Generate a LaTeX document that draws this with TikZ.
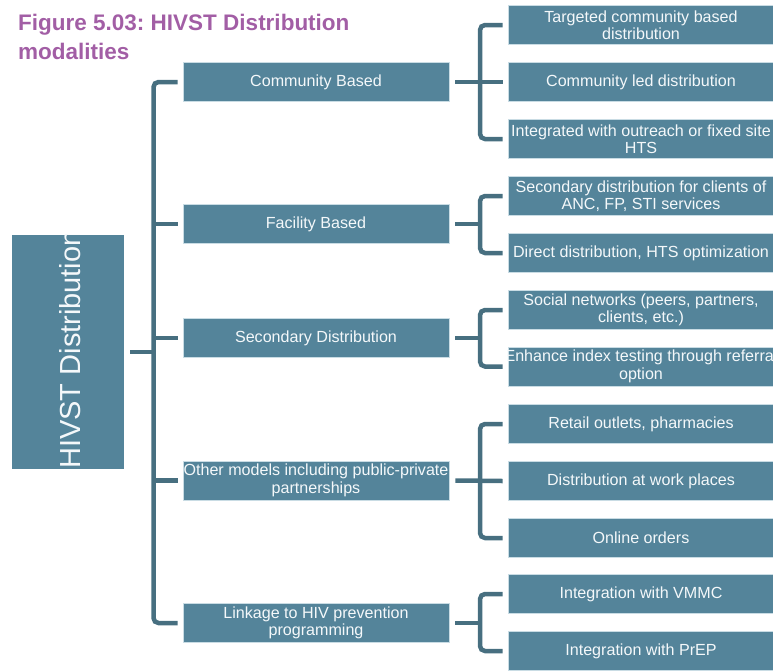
\documentclass[tikz,border=0pt]{standalone}
\usepackage{fontspec}
\setmainfont{Liberation Sans}
\frenchspacing
\definecolor{boxfill}{HTML}{54849A}
\definecolor{boxline}{HTML}{C9DCE4}
\definecolor{conncol}{HTML}{476F80}
\definecolor{titlecol}{HTML}{A25EA5}
\definecolor{txtcol}{HTML}{F4F8FA}
\begin{document}
\begin{tikzpicture}[x=1pt,y=-1pt,
  box/.style={fill=boxfill,draw=boxline,line width=0.6pt,inner sep=0pt,
    text=txtcol,font=\fontsize{16.1}{17.5}\selectfont,align=center,minimum height=39pt},
  lone/.style={box,minimum width=266pt},
  ltwo/.style={box,minimum width=266pt},
  boxtext/.style={text=txtcol,font=\fontsize{16.1}{17.5}\selectfont,align=center,inner sep=0pt},
  conn/.style={draw=conncol,line width=4.5pt,line cap=butt},
  bracket/.style={conn,rounded corners=5pt}]
\useasboundingbox (0,0) rectangle (773,670);

% title
\node[anchor=base west,inner sep=0pt,text=titlecol,font=\fontsize{22.5}{29}\selectfont\bfseries,align=left] (title) at (18,59) {Figure 5.03: HIVST Distribution\\modalities};

% root
\node[fill=boxfill,inner sep=0pt,minimum width=112pt,minimum height=234pt] (root) at (68,352) {};
\begin{scope}
\clip (root.south west) rectangle (root.north east);
\node[rotate=90,anchor=base west,inner sep=0pt,text=txtcol,font=\fontsize{29}{32}\selectfont] (roottext) at (80,469) {HIVST Distribution};
\end{scope}

% level 1
\node[lone] (l1) at (316,82) {Community Based};
\node[lone] (l2) at (316,224) {Facility Based};
\node[lone] (l3) at (316,338) {Secondary Distribution};
\node[lone] (l4) at (316,480.5) {Other models including public-private\\partnerships};
\node[lone] (l5) at (316,623) {Linkage to HIV prevention\\programming};

% level 2
\node[ltwo] (t1) at (641,25) {Targeted community based\\distribution};
\node[ltwo] (t2) at (641,82) {Community led distribution};
\node[ltwo] (t3) at (641,139) {Integrated with outreach or fixed site\\HTS};
\node[ltwo] (t4) at (641,196) {Secondary distribution for clients of\\ANC, FP, STI services};
\node[ltwo] (t5) at (641,253) {Direct distribution, HTS optimization};
\node[ltwo] (t6) at (641,310) {Social networks (peers, partners,\\clients, etc.)};
\node[ltwo] (t7) at (641,366.5) {};
\begin{scope}
\clip (t7.south west) rectangle (t7.north east);
\node[boxtext] (t7text) at (t7.center) {Enhance index testing through referral\\option};
\end{scope}
\node[ltwo] (t8) at (641,424) {Retail outlets, pharmacies};
\node[ltwo] (t9) at (641,481) {Distribution at work places};
\node[ltwo] (t10) at (641,538) {Online orders};
\node[ltwo] (t11) at (641,594) {Integration with VMMC};
\node[ltwo] (t12) at (641,651) {Integration with PrEP};

% main bus
\coordinate (bus) at (153.5,352);
\draw[bracket] ([xshift=-5pt]l1.west) -| (bus) |- ([xshift=-5pt]l5.west);
\draw[conn] ([xshift=-5pt]l2.west) -- (bus |- l2.west);
\draw[conn] ([xshift=-5pt]l3.west) -- (bus |- l3.west);
\draw[conn] ([xshift=-5pt]l4.west) -- (bus |- l4.west);
\draw[conn] ([xshift=6pt]root.east) -- ([xshift=2pt]bus);

% level-2 brackets
\coordinate (bx) at (480,0);
% community
\draw[bracket] ([xshift=-5pt]t1.west) -| (bx |- l1.east) |- ([xshift=-5pt]t3.west);
\draw[conn] ([xshift=6pt]l1.east) -- ([xshift=-5pt]t2.west);
% facility
\draw[bracket] ([xshift=-5pt]t4.west) -| (bx |- l2.east) |- ([xshift=-5pt]t5.west);
\draw[conn] ([xshift=6pt]l2.east) -- ([xshift=2pt]bx |- l2.east);
% secondary
\draw[bracket] ([xshift=-5pt]t6.west) -| (bx |- l3.east) |- ([xshift=-5pt]t7.west);
\draw[conn] ([xshift=6pt]l3.east) -- ([xshift=2pt]bx |- l3.east);
% other
\draw[bracket] ([xshift=-5pt]t8.west) -| (bx |- l4.east) |- ([xshift=-5pt]t10.west);
\draw[conn] ([xshift=6pt]l4.east) -- ([xshift=-5pt]t9.west);
% linkage
\draw[bracket] ([xshift=-5pt]t11.west) -| (bx |- l5.east) |- ([xshift=-5pt]t12.west);
\draw[conn] ([xshift=6pt]l5.east) -- ([xshift=2pt]bx |- l5.east);
\end{tikzpicture}
\end{document}
